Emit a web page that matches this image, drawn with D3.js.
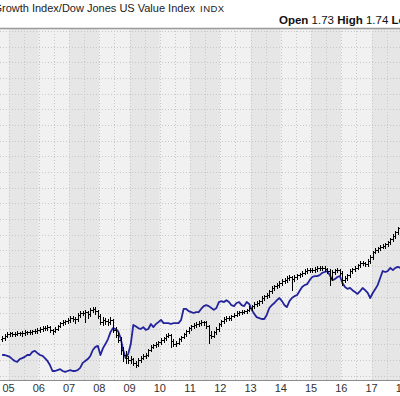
<!DOCTYPE html>
<html>
<head>
<meta charset="utf-8">
<script src="https://d3js.org/d3.v7.min.js"></script>
<style>
  body { margin: 0; background: #fff; }
  svg text { font-family: "Liberation Sans", Arial, sans-serif; }
</style>
</head>
<body>
<script>
// monthly OHLC of the ratio, Oct 2004 .. Jan 2018
var opens = [1.366,1.370,1.377,
  1.383,1.386,1.383,1.383,1.386,1.386,1.386,1.389,1.389,1.389,1.392,1.392,
  1.396,1.399,1.402,1.402,1.405,1.396,1.392,1.399,1.408,1.418,1.421,1.424,
  1.428,1.434,1.431,1.431,1.444,1.450,1.450,1.453,1.447,1.460,1.463,1.456,
  1.440,1.421,1.428,1.424,1.421,1.428,1.396,1.380,1.364,1.332,1.316,1.306,
  1.300,1.303,1.291,1.284,1.300,1.306,1.313,1.316,1.332,1.342,1.348,1.351,
  1.358,1.364,1.370,1.377,1.380,1.361,1.351,1.354,1.367,1.373,1.383,1.392,
  1.402,1.408,1.412,1.415,1.418,1.421,1.421,1.408,1.380,1.377,1.389,1.399,
  1.415,1.424,1.431,1.434,1.434,1.440,1.444,1.450,1.453,1.453,1.456,1.460,
  1.466,1.472,1.479,1.482,1.488,1.498,1.504,1.507,1.520,1.530,1.536,1.539,
  1.546,1.552,1.555,1.562,1.565,1.558,1.565,1.571,1.574,1.578,1.584,1.587,
  1.587,1.587,1.590,1.594,1.594,1.594,1.590,1.584,1.562,1.581,1.587,1.587,
  1.578,1.555,1.562,1.571,1.584,1.590,1.594,1.603,1.610,1.610,1.606,1.616,
  1.629,1.645,1.651,1.657,1.661,1.664,1.670,1.676,1.686,1.696,1.708,1.721,
  1.731];
var highs = [1.376,1.382,1.388,
  1.391,1.390,1.388,1.392,1.391,1.393,1.395,1.394,1.396,1.397,1.398,1.401,
  1.405,1.408,1.409,1.411,1.410,1.400,1.404,1.413,1.422,1.427,1.429,1.433,
  1.440,1.439,1.436,1.449,1.455,1.457,1.460,1.458,1.465,1.470,1.468,1.460,
  1.446,1.436,1.435,1.431,1.436,1.432,1.404,1.390,1.372,1.340,1.328,1.314,
  1.312,1.308,1.297,1.306,1.312,1.318,1.322,1.336,1.347,1.352,1.357,1.362,
  1.369,1.375,1.382,1.386,1.384,1.366,1.360,1.371,1.378,1.387,1.397,1.406,
  1.413,1.417,1.420,1.423,1.427,1.426,1.426,1.412,1.393,1.394,1.404,1.419,
  1.428,1.436,1.439,1.440,1.445,1.449,1.455,1.458,1.459,1.461,1.464,1.471,
  1.477,1.484,1.488,1.493,1.503,1.509,1.513,1.525,1.535,1.541,1.545,1.551,
  1.557,1.561,1.567,1.571,1.569,1.570,1.576,1.579,1.583,1.589,1.593,1.593,
  1.593,1.596,1.599,1.600,1.600,1.599,1.595,1.589,1.586,1.592,1.593,1.592,
  1.583,1.567,1.576,1.589,1.595,1.600,1.608,1.615,1.616,1.614,1.621,1.634,
  1.649,1.656,1.662,1.666,1.670,1.675,1.681,1.691,1.701,1.713,1.726,1.736,
  1.742];
var lows = [1.361,1.365,1.372,
  1.378,1.377,1.376,1.379,1.380,1.378,1.381,1.383,1.382,1.384,1.385,1.387,
  1.390,1.394,1.396,1.397,1.389,1.383,1.388,1.396,1.404,1.413,1.416,1.419,
  1.422,1.424,1.418,1.426,1.438,1.444,1.421,1.433,1.442,1.454,1.448,1.434,
  1.414,1.412,1.416,1.413,1.416,1.390,1.372,1.356,1.318,1.298,1.292,1.290,
  1.290,1.285,1.277,1.281,1.294,1.302,1.306,1.313,1.328,1.337,1.343,1.346,
  1.352,1.357,1.364,1.372,1.342,1.345,1.346,1.350,1.362,1.369,1.378,1.387,
  1.397,1.403,1.407,1.410,1.412,1.413,1.402,1.354,1.370,1.372,1.384,1.394,
  1.410,1.419,1.426,1.428,1.428,1.436,1.440,1.445,1.447,1.449,1.451,1.455,
  1.461,1.467,1.474,1.477,1.483,1.493,1.498,1.502,1.515,1.525,1.531,1.534,
  1.540,1.546,1.549,1.556,1.523,1.553,1.560,1.566,1.569,1.573,1.578,1.580,
  1.580,1.582,1.585,1.587,1.588,1.584,1.578,1.539,1.554,1.576,1.581,1.572,
  1.539,1.548,1.556,1.566,1.579,1.585,1.589,1.598,1.604,1.600,1.601,1.611,
  1.624,1.640,1.646,1.652,1.656,1.659,1.665,1.671,1.681,1.691,1.703,1.716,
  1.727];
var closes = [1.370,1.377,1.383,
  1.386,1.383,1.383,1.386,1.386,1.386,1.389,1.389,1.389,1.392,1.392,1.396,
  1.399,1.402,1.402,1.405,1.396,1.392,1.399,1.408,1.418,1.421,1.424,1.428,
  1.434,1.431,1.431,1.444,1.450,1.450,1.453,1.447,1.460,1.463,1.456,1.440,
  1.421,1.428,1.424,1.421,1.428,1.396,1.380,1.364,1.332,1.316,1.306,1.300,
  1.303,1.291,1.284,1.300,1.306,1.313,1.316,1.332,1.342,1.348,1.351,1.358,
  1.364,1.370,1.377,1.380,1.361,1.351,1.354,1.367,1.373,1.383,1.392,1.402,
  1.408,1.412,1.415,1.418,1.421,1.421,1.408,1.380,1.377,1.389,1.399,1.415,
  1.424,1.431,1.434,1.434,1.440,1.444,1.450,1.453,1.453,1.456,1.460,1.466,
  1.472,1.479,1.482,1.488,1.498,1.504,1.507,1.520,1.530,1.536,1.539,1.546,
  1.552,1.555,1.562,1.565,1.558,1.565,1.571,1.574,1.578,1.584,1.587,1.587,
  1.587,1.590,1.594,1.594,1.594,1.590,1.584,1.562,1.581,1.587,1.587,1.578,
  1.555,1.562,1.571,1.584,1.590,1.594,1.603,1.610,1.610,1.606,1.616,1.629,
  1.645,1.651,1.657,1.661,1.664,1.670,1.676,1.686,1.696,1.708,1.721,1.731,
  1.738];
// comparison line (blue), same months
var compare = [1.316,1.316,1.313,
  1.310,1.303,1.297,1.294,1.303,1.306,1.310,1.316,1.316,1.326,1.329,1.322,
  1.316,1.313,1.306,1.297,1.284,1.265,1.265,1.268,1.271,1.265,1.262,1.265,
  1.268,1.265,1.265,1.268,1.275,1.291,1.297,1.303,1.313,1.332,1.342,1.345,
  1.316,1.338,1.351,1.367,1.389,1.402,1.399,1.392,1.370,1.332,1.306,1.319,
  1.351,1.412,1.408,1.402,1.399,1.405,1.396,1.399,1.415,1.405,1.415,1.421,
  1.428,1.418,1.418,1.418,1.415,1.418,1.418,1.418,1.428,1.463,1.463,1.456,
  1.453,1.450,1.453,1.453,1.463,1.472,1.475,1.472,1.466,1.460,1.466,1.485,
  1.488,1.485,1.491,1.485,1.475,1.472,1.482,1.485,1.475,1.472,1.485,1.479,
  1.460,1.447,1.437,1.434,1.431,1.431,1.444,1.466,1.475,1.482,1.491,1.498,
  1.488,1.475,1.469,1.488,1.498,1.504,1.507,1.520,1.533,1.539,1.542,1.555,
  1.565,1.568,1.568,1.571,1.578,1.581,1.584,1.571,1.555,1.558,1.565,1.568,
  1.546,1.533,1.527,1.530,1.523,1.517,1.511,1.520,1.530,1.523,1.514,1.498,
  1.514,1.527,1.539,1.562,1.584,1.581,1.584,1.594,1.587,1.594,1.597,1.594,
  1.594];
var yearLabels = ["05","06","07","08","09","10","11","12","13","14","15","16","17","18"];
var gridValues = d3.range(1.25, 2.36, 0.05);

var W = 400, H = 396, plotTop = 28, plotBottom = 380;

var svg = d3.select("body").append("svg")
  .attr("width", W).attr("height", H);

var x = d3.scaleTime()
  .domain([new Date(2004, 8, 19), new Date(2017, 11, 10)])
  .range([0, W]);
var y = d3.scaleLinear()
  .domain([1.25, 2.35])
  .range([375.7, 31]);

var dates = closes.map(function(d, i) { return new Date(2004, 9 + i, 15); });

// year bands
var years = d3.range(2004, 2019);
svg.append("g").selectAll("rect")
  .data(years)
  .enter().append("rect")
  .attr("x", function(d) { return x(new Date(d, 0, 1)); })
  .attr("y", plotTop)
  .attr("width", function(d) { return x(new Date(d + 1, 0, 1)) - x(new Date(d, 0, 1)); })
  .attr("height", plotBottom - plotTop)
  .attr("fill", function(d) { return d % 2 ? "#e6e6e6" : "#f1f1f1"; });

// grid
var grid = svg.append("g")
  .attr("stroke", "#c8c8c8")
  .attr("stroke-dasharray", "1,2")
  .attr("shape-rendering", "crispEdges");
grid.selectAll("line.h")
  .data(gridValues)
  .enter().append("line")
  .attr("x1", 0).attr("x2", W)
  .attr("y1", function(d) { return Math.round(y(d)) + 0.5; })
  .attr("y2", function(d) { return Math.round(y(d)) + 0.5; });
var halfYears = [];
years.forEach(function(yr) { halfYears.push(new Date(yr, 0, 1), new Date(yr, 6, 1)); });
grid.selectAll("line.v")
  .data(halfYears)
  .enter().append("line")
  .attr("x1", function(d) { return Math.round(x(d)) + 0.5; })
  .attr("x2", function(d) { return Math.round(x(d)) + 0.5; })
  .attr("y1", plotTop).attr("y2", plotBottom);

// top border
svg.append("line")
  .attr("x1", 0).attr("x2", W).attr("y1", plotTop + 0.5).attr("y2", plotTop + 0.5)
  .attr("stroke", "#9a9a9a").attr("stroke-width", 1.5);

svg.append("clipPath").attr("id", "plot")
  .append("rect").attr("x", 0).attr("y", plotTop).attr("width", W).attr("height", plotBottom - plotTop);

var plot = svg.append("g").attr("clip-path", "url(#plot)");

// comparison line
var line = d3.line()
  .x(function(d, i) { return x(dates[i]); })
  .y(function(d) { return y(d); });
plot.append("path")
  .datum(compare)
  .attr("d", line)
  .attr("fill", "none")
  .attr("stroke", "#23239c")
  .attr("stroke-width", 1.8)
  .attr("stroke-linejoin", "round");

// OHLC bars
var bars = plot.append("g")
  .attr("stroke", "#000")
  .attr("stroke-width", 1)
  .attr("shape-rendering", "crispEdges");
closes.forEach(function(c, i) {
  var bx = Math.round(x(dates[i])) + 0.5;
  bars.append("line")
    .attr("x1", bx).attr("x2", bx)
    .attr("y1", Math.round(y(highs[i]))).attr("y2", Math.round(y(lows[i])) + 1);
  bars.append("line")
    .attr("x1", bx - 1.5).attr("x2", bx)
    .attr("y1", Math.round(y(opens[i])) + 0.5).attr("y2", Math.round(y(opens[i])) + 0.5);
  bars.append("line")
    .attr("x1", bx).attr("x2", bx + 1.5)
    .attr("y1", Math.round(y(c)) + 0.5).attr("y2", Math.round(y(c)) + 0.5);
});

// x axis
svg.append("line")
  .attr("x1", 0).attr("x2", W).attr("y1", plotBottom + 0.5).attr("y2", plotBottom + 0.5)
  .attr("stroke", "#8c8c8c").attr("stroke-width", 1);
svg.append("g").selectAll("text")
  .data(yearLabels)
  .enter().append("text")
  .attr("x", function(d, i) { return x(new Date(2005 + i, 0, 1)); })
  .attr("y", 392)
  .attr("text-anchor", "middle")
  .attr("font-size", 11)
  .attr("fill", "#333")
  .text(function(d) { return d; });

// header
svg.append("text")
  .attr("x", 195).attr("y", 12)
  .attr("text-anchor", "end")
  .attr("font-size", 11)
  .attr("fill", "#222")
  .text("Dow Jones US Growth Index/Dow Jones US Value Index");
svg.append("text")
  .attr("x", 200).attr("y", 12)
  .attr("font-size", 9.5)
  .attr("letter-spacing", 0.5)
  .attr("fill", "#222")
  .text("INDX");

var quote = svg.append("text")
  .attr("x", 279).attr("y", 24)
  .attr("font-size", 11.5)
  .attr("fill", "#111");
quote.append("tspan").attr("font-weight", "bold").text("Open");
quote.append("tspan").text(" 1.73 ");
quote.append("tspan").attr("font-weight", "bold").text(" High");
quote.append("tspan").text(" 1.74 ");
quote.append("tspan").attr("font-weight", "bold").text(" Low");
</script>
</body>
</html>
